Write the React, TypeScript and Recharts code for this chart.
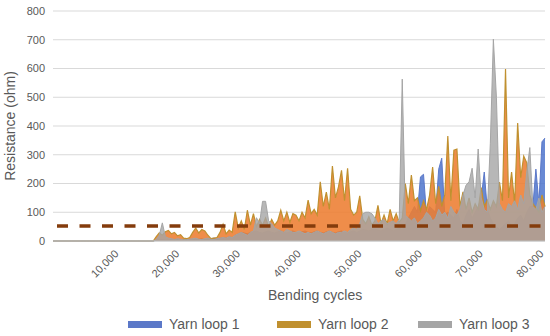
import { AreaChart, Area, XAxis, YAxis, CartesianGrid, ReferenceLine } from 'recharts';

// one reading every 500 bending cycles, 0 .. 81,000
const CYCLE_STEP = 500;

// Yarn loop 1 (ohm)
const loop1 = [
  0, 0, 0, 0, 0, 0, 0, 0, 0, 0, 0, 0, 0, 0, 0, 0, 0, 0, 0, 0,
  0, 0, 0, 0, 0, 0, 0, 0, 0, 0, 0, 0, 0, 0, 3, 4, 5, 3, 4, 5,
  4, 5, 3, 4, 5, 6, 4, 5, 6, 8, 5, 6, 8, 10, 8, 10, 12, 10, 15, 12,
  20, 25, 30, 28, 25, 30, 32, 35, 30, 28, 32, 35, 30, 28, 32, 35, 30, 28, 32, 35,
  30, 28, 32, 35, 30, 28, 32, 35, 30, 28, 32, 35, 30, 28, 32, 35, 30, 28, 32, 35,
  30, 35, 40, 38, 35, 40, 42, 38, 35, 40, 45, 40, 35, 40, 45, 40, 60, 80, 100, 120,
  100, 223, 232, 90, 120, 110, 100, 250, 288, 90, 100, 90, 80, 110, 70, 60, 90, 110, 80, 100,
  120, 150, 240, 110, 80, 60, 50, 40, 50, 60, 70, 50, 60, 80, 90, 70, 100, 120, 120, 250,
  130, 345, 358,
];

// Yarn loop 2 (ohm)
const loop2 = [
  0, 0, 0, 0, 0, 0, 0, 0, 0, 0, 0, 0, 0, 0, 0, 0, 0, 0, 0, 0,
  0, 0, 0, 0, 0, 0, 0, 0, 0, 0, 0, 0, 0, 0, 15, 28, 20, 32, 37, 25,
  30, 18, 22, 10, 8, 12, 30, 45, 28, 40, 35, 20, 8, 10, 12, 30, 58, 25, 38, 30,
  101, 45, 70, 40, 107, 55, 95, 50, 75, 55, 80, 50, 75, 55, 70, 107, 70, 100, 65, 95,
  90, 70, 100, 80, 142, 95, 110, 90, 206, 120, 170, 110, 261, 150, 188, 246, 140, 253, 110, 90,
  100, 157, 75, 60, 85, 55, 70, 124, 60, 90, 60, 110, 70, 95, 65, 80, 200, 130, 229, 140,
  150, 105, 140, 110, 160, 257, 130, 190, 120, 160, 365, 140, 316, 320, 120, 171, 110, 150, 100, 130,
  110, 186, 120, 142, 110, 140, 120, 205, 140, 598, 150, 240, 130, 410, 220, 295, 272, 160, 130, 115,
  100, 160, 120,
];

// Yarn loop 3 (ohm)
const loop3 = [
  0, 0, 0, 0, 0, 0, 0, 0, 0, 0, 0, 0, 0, 0, 0, 0, 0, 0, 0, 0,
  0, 0, 0, 0, 0, 0, 0, 0, 0, 0, 0, 0, 0, 0, 5, 20, 63, 15, 10, 8,
  5, 8, 6, 4, 5, 6, 8, 10, 6, 5, 8, 10, 6, 5, 8, 10, 12, 10, 15, 12,
  20, 25, 30, 25, 20, 30, 35, 81, 60, 138, 138, 70, 60, 45, 40, 35, 30, 40, 35, 30,
  30, 35, 30, 25, 30, 25, 30, 35, 30, 25, 30, 35, 30, 25, 30, 30, 35, 30, 40, 45,
  40, 60, 95, 100, 100, 95, 80, 60, 70, 75, 60, 65, 70, 60, 75, 563, 90, 80, 70, 80,
  60, 70, 80, 100, 90, 70, 80, 110, 90, 100, 80, 120, 100, 90, 110, 160, 194, 206, 253, 150,
  320, 150, 110, 100, 340, 702, 500, 130, 110, 100, 130, 120, 140, 110, 160, 130, 240, 325, 120, 110,
  150, 100, 120,
];

const xTicks = [10000, 20000, 30000, 40000, 50000, 60000, 70000, 80000];
const yTicks = [0, 100, 200, 300, 400, 500, 600, 700, 800];
const threshold = 52;

const seriesNames = ['Yarn loop 1', 'Yarn loop 2', 'Yarn loop 3'];
const seriesColors = ['#5B78C8', '#C0902F', '#A5A5A5'];

const FONT = '"Liberation Sans", Arial, sans-serif';
const TEXT = '#595959';

const data = loop1.map((v, i) => ({
  cycle: i * CYCLE_STEP,
  loop1: v,
  loop2: loop2[i],
  loop3: loop3[i],
}));

export default function App() {
  const legendLeft = [128, 277, 418];

  return (
    <div style={{ position: 'absolute', left: 0, top: 0, width: 550, height: 336, background: '#fff', fontFamily: FONT }}>
      <AreaChart width={550} height={336} data={data} margin={{ top: 11, right: 5, left: 0, bottom: 0 }}>
        <CartesianGrid vertical={false} stroke="#D9D9D9" />
        <XAxis
          dataKey="cycle"
          type="number"
          domain={[0, 81000]}
          ticks={xTicks}
          tickFormatter={(v: number) => v.toLocaleString('en-US')}
          angle={-45}
          textAnchor="end"
          height={95}
          tick={{ fontSize: 11, fill: TEXT, fontFamily: FONT }}
          tickLine={false}
          axisLine={{ stroke: '#BFBFBF' }}
        />
        <YAxis
          domain={[0, 800]}
          ticks={yTicks}
          width={53}
          tick={{ fontSize: 11, fill: TEXT, fontFamily: FONT }}
          tickLine={false}
          axisLine={false}
          label={{
            value: 'Resistance (ohm)',
            angle: -90,
            position: 'insideLeft',
            offset: 10,
            style: { textAnchor: 'middle', fontSize: 14, fill: TEXT, fontFamily: FONT },
          }}
        />
        {/* series 1 sits at the back, like the original spreadsheet chart */}
        <Area
          type="linear"
          dataKey="loop1"
          stroke="#5B78C8"
          strokeWidth={1}
          fill="#4E74CC"
          fillOpacity={0.85}
          dot={false}
          isAnimationActive={false}
        />
        <Area
          type="linear"
          dataKey="loop2"
          stroke="#C0902F"
          strokeWidth={1.2}
          fill="#ED7D31"
          fillOpacity={0.88}
          dot={false}
          isAnimationActive={false}
        />
        <Area
          type="linear"
          dataKey="loop3"
          stroke="#A5A5A5"
          strokeWidth={1}
          fill="#A5A5A5"
          fillOpacity={0.8}
          dot={false}
          isAnimationActive={false}
        />
        <ReferenceLine
          y={threshold}
          stroke="#843C0C"
          strokeWidth={3.5}
          strokeDasharray="11 11.5"
          strokeDashoffset={18.5}
        />
      </AreaChart>

      {/* axis title */}
      <div style={{ position: 'absolute', left: 268, top: 287, fontSize: 14, color: TEXT, whiteSpace: 'nowrap' }}>
        Bending cycles
      </div>

      {/* legend */}
      {seriesNames.map((name, i) => (
        <div
          key={name}
          style={{ position: 'absolute', left: legendLeft[i], top: 316, display: 'flex', alignItems: 'center', gap: 7, fontSize: 14, color: TEXT, whiteSpace: 'nowrap' }}
        >
          <span style={{ display: 'inline-block', width: 34, height: 7, background: seriesColors[i] }} />
          <span>{name}</span>
        </div>
      ))}
    </div>
  );
}
